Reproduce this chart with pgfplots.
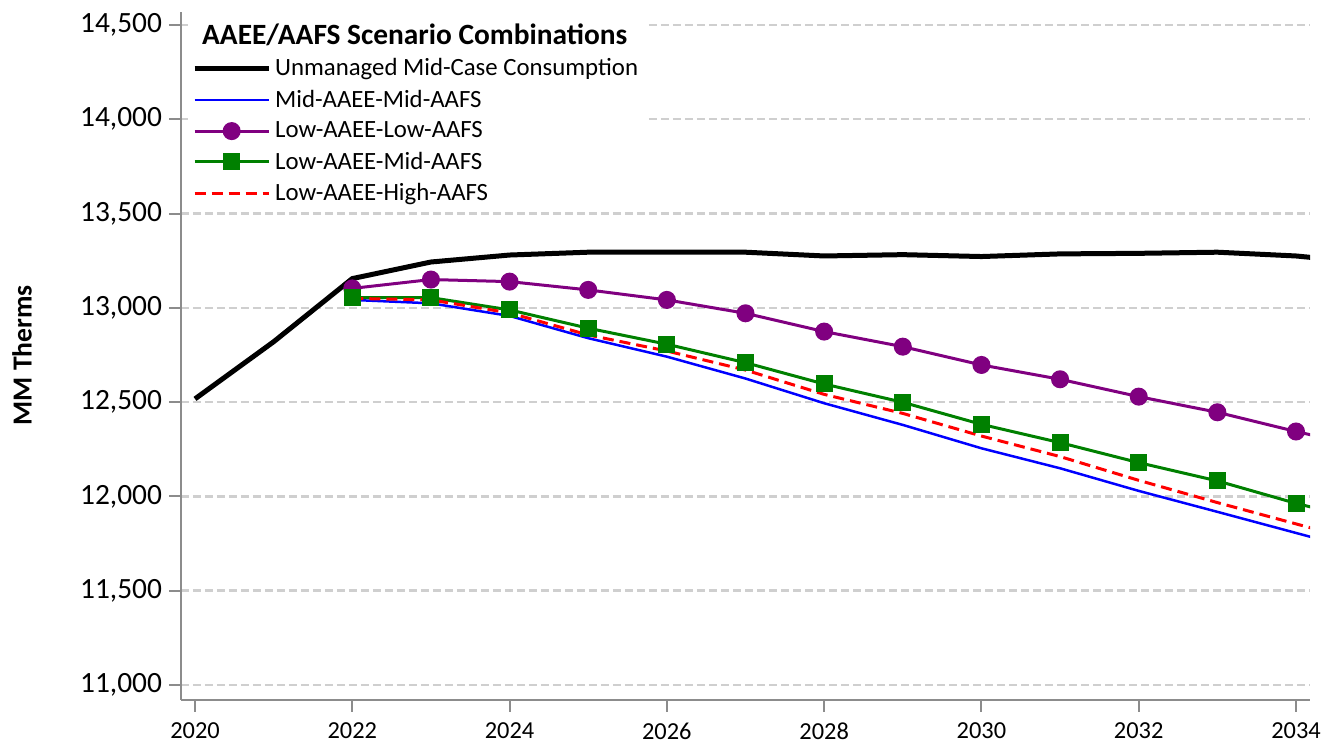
\documentclass[border=0pt]{standalone}
\usepackage{pgfplots}
\pgfplotsset{compat=1.18}
\usepackage{fontspec}
\setmainfont{Carlito}
\definecolor{axgray}{HTML}{8C8C8C}
\definecolor{gridgray}{HTML}{CFCFCF}
\definecolor{mypurple}{HTML}{800080}
\definecolor{mygreen}{HTML}{008000}
\begin{document}
\begin{tikzpicture}
\begin{axis}[
 name=ax,
 scale only axis,
 width=564.5pt, height=344pt,
 xmin=2019.822, xmax=2034.178,
 ymin=10920, ymax=14569,
 axis x line*=bottom, axis y line*=left,
 axis line style={axgray, line width=1pt, -},
 xtick={2020,2022,...,2034},
 ytick={11000,11500,...,14500},
 tick align=outside, major tick length=6pt,
 tick style={axgray, line width=1pt},
 /pgf/number format/assume math mode=true,
 xticklabel style={font=\fontsize{12.2}{14}\selectfont, /pgf/number format/1000 sep={}, yshift=-2pt},
 yticklabel style={font=\fontsize{14.7}{17}\selectfont, /pgf/number format/1000 sep={,}},
 scaled y ticks=false,
 ymajorgrids,
 major grid style={gridgray, line width=1.2pt, dash pattern=on 4pt off 2pt},
 ylabel={\textbf{MM Therms}},
 ylabel style={font=\fontsize{13.8}{16}\selectfont, at={(axis description cs:-0.1408,0.501)}, anchor=center},
 legend style={at={(axis description cs:0.006,0.995)}, anchor=north west, fill=white, draw=none, inner sep=2pt, row sep=1.6pt, font=\fontsize{12.4}{14}\selectfont, cells={anchor=west}},
 legend cell align=left,
 legend image code/.code={\draw[mark indices={2}] plot coordinates {(0pt,0pt) (18.5pt,0pt) (37pt,0pt)};},
]
\addlegendimage{empty legend}
\addlegendentry{\hspace*{-36.5pt}\fontsize{14.7}{17}\selectfont\bfseries AAEE/AAFS Scenario Combinations\rule[-4pt]{0pt}{4pt}}

\addplot[black, line width=2.5pt] coordinates {
(2020,12517) (2021,12820) (2022,13155) (2023,13243) (2024,13280) (2025,13295) (2026,13296) (2027,13295) (2028,13275) (2029,13282) (2030,13272) (2031,13286) (2032,13289) (2033,13295) (2034,13275) (2035,13235)};
\addlegendentry{Unmanaged Mid-Case Consumption}

\addplot[blue, line width=1.25pt] coordinates {
(2022,13042) (2023,13024) (2024,12957) (2025,12839) (2026,12741) (2027,12625) (2028,12494) (2029,12379) (2030,12255) (2031,12149) (2032,12029) (2033,11918) (2034,11806) (2035,11694)};
\addlegendentry{Mid-AAEE-Mid-AAFS}

\addplot[mypurple, line width=1.5pt, mark=*, mark size=3.75pt, mark options={solid, fill=mypurple}, mark indices={1,...,13}] coordinates {
(2022,13103) (2023,13150) (2024,13139) (2025,13095) (2026,13042) (2027,12971) (2028,12874) (2029,12794) (2030,12697) (2031,12621) (2032,12529) (2033,12446) (2034,12344) (2035,12250)};
\addlegendentry{Low-AAEE-Low-AAFS}

\addplot[mygreen, line width=1.5pt, mark=square*, mark size=3.5pt, mark options={solid, fill=mygreen}, mark indices={1,...,13}] coordinates {
(2022,13054) (2023,13054) (2024,12989) (2025,12892) (2026,12807) (2027,12709) (2028,12596) (2029,12499) (2030,12382) (2031,12285) (2032,12179) (2033,12082) (2034,11963) (2035,11860)};
\addlegendentry{Low-AAEE-Mid-AAFS}

\addplot[red, line width=1.5pt, dash pattern=on 5.5pt off 3pt] coordinates {
(2022,13050) (2023,13042) (2024,12973) (2025,12856) (2026,12771) (2027,12670) (2028,12541) (2029,12440) (2030,12320) (2031,12211) (2032,12085) (2033,11967) (2034,11854) (2035,11742)};
\addlegendentry{Low-AAEE-High-AAFS}
\end{axis}
\pgfresetboundingbox
\path ([shift={(-90.5pt,-22pt)}]ax.south west) rectangle ([shift={(12.5pt,6pt)}]ax.north east);
\end{tikzpicture}
\end{document}
